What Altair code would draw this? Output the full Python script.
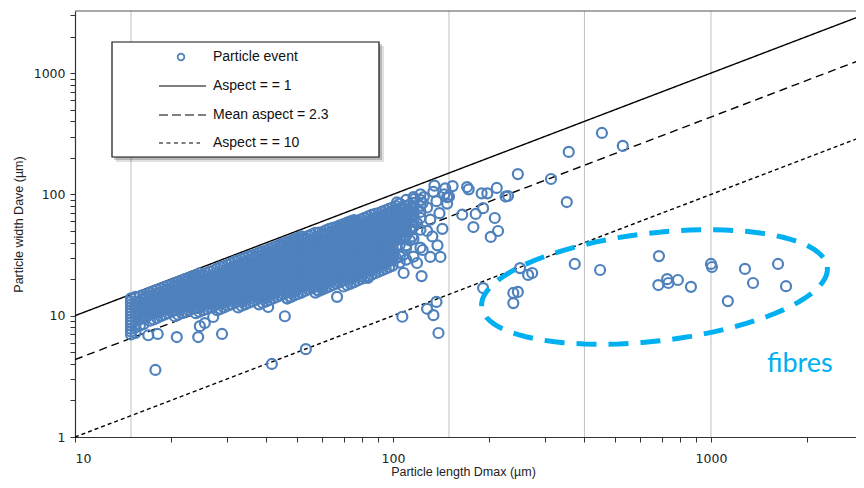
import altair as alt
import pandas as pd

# ---------------- data ----------------
X_DOMAIN = [10, 2858]
Y_DOMAIN = [1, 3250]

# dense cloud of particle events: (Dmax, [Dave values])
BLOB = [
    (15.0, [7.0, 7.4, 7.8, 8.3, 8.8, 9.3, 9.9, 10.5, 11.1, 11.7, 12.4, 13.1, 13.9]),
    (16.0, [8.3, 9.3, 10.5, 11.7, 13.1, 14.4]),
    (16.8, [9.9, 11.1, 12.4, 13.9, 15.0]),
    (17.7, [9.3, 10.5, 11.7, 13.1, 14.7, 15.9]),
    (18.6, [9.9, 11.1, 12.4, 13.9, 15.5, 16.7]),
    (19.6, [10.5, 11.7, 13.1, 14.7, 16.5, 17.6]),
    (20.6, [9.9, 11.1, 12.4, 13.9, 15.5, 17.4, 18.5]),
    (21.7, [10.5, 11.7, 13.1, 14.7, 16.5, 18.4, 19.5]),
    (22.8, [11.1, 12.4, 13.9, 15.5, 17.4, 19.5, 20.5]),
    (24.0, [10.5, 11.7, 13.1, 14.7, 16.5, 18.4, 20.6, 21.5]),
    (25.3, [11.1, 12.4, 13.9, 15.5, 17.4, 19.5, 21.8]),
    (26.6, [11.7, 13.1, 14.7, 16.5, 18.4, 20.6, 23.1]),
    (28.0, [11.1, 12.4, 13.9, 15.5, 17.4, 19.5, 21.8, 24.4]),
    (29.4, [11.7, 13.1, 14.7, 16.5, 18.4, 20.6, 23.1, 25.5]),
    (31.0, [12.4, 13.9, 15.5, 17.4, 19.5, 21.8, 24.4, 27.0]),
    (32.6, [11.7, 13.1, 14.7, 16.5, 18.4, 20.6, 23.1, 25.9, 28.5]),
    (34.3, [12.4, 13.9, 15.5, 17.4, 19.5, 21.8, 24.4, 27.4, 30.0]),
    (36.1, [13.1, 14.7, 16.5, 18.4, 20.6, 23.1, 25.9, 29.0, 31.5]),
    (37.9, [12.4, 13.9, 15.5, 17.4, 19.5, 21.8, 24.4, 27.4, 30.7, 33.0]),
    (39.9, [13.1, 14.7, 16.5, 18.4, 20.6, 23.1, 25.9, 29.0, 32.5, 34.5]),
    (42.0, [13.9, 15.5, 17.4, 19.5, 21.8, 24.4, 27.4, 30.7, 34.3, 36.5]),
    (44.2, [14.7, 16.5, 18.4, 20.6, 23.1, 25.9, 29.0, 32.5, 36.4, 38.5]),
    (46.5, [13.9, 15.5, 17.4, 19.5, 21.8, 24.4, 27.4, 30.7, 34.3, 38.4, 40.5]),
    (48.9, [14.7, 16.5, 18.4, 20.6, 23.1, 25.9, 29.0, 32.5, 36.4, 40.7, 42.5]),
    (51.5, [15.5, 17.4, 19.5, 21.8, 24.4, 27.4, 30.7, 34.3, 38.4, 43.0, 45.0]),
    (54.2, [16.5, 18.4, 20.6, 23.1, 25.9, 29.0, 32.5, 36.4, 40.7, 45.6]),
    (57.0, [15.5, 17.4, 19.5, 21.8, 24.4, 27.4, 30.7, 34.3, 38.4, 43.0, 48.2]),
    (60.0, [16.5, 18.4, 20.6, 23.1, 25.9, 29.0, 32.5, 36.4, 40.7, 45.6, 49.0]),
    (63.1, [17.4, 19.5, 21.8, 24.4, 27.4, 30.7, 34.3, 38.4, 43.0, 48.2, 52.0]),
    (66.4, [18.4, 20.6, 23.1, 25.9, 29.0, 32.5, 36.4, 40.7, 45.6, 51.1, 54.0]),
    (69.9, [17.4, 19.5, 21.8, 24.4, 27.4, 30.7, 34.3, 38.4, 43.0, 48.2, 54.0, 57.0]),
    (73.5, [18.4, 20.6, 23.1, 25.9, 29.0, 32.5, 36.4, 40.7, 45.6, 51.1, 57.2, 60.0]),
    (77.4, [19.5, 21.8, 24.4, 27.4, 30.7, 34.3, 38.4, 43.0, 48.2, 54.0, 60.5]),
    (81.4, [20.6, 23.1, 25.9, 29.0, 32.5, 36.4, 40.7, 45.6, 51.1, 57.2, 64.0]),
    (85.6, [21.8, 24.4, 27.4, 30.7, 34.3, 38.4, 43.0, 48.2, 54.0, 60.5, 67.7]),
    (90.1, [23.1, 25.9, 29.0, 32.5, 36.4, 40.7, 45.6, 51.1, 57.2, 64.0, 70.0]),
    (94.8, [24.4, 27.4, 30.7, 34.3, 38.4, 43.0, 48.2, 54.0, 60.5, 67.7, 74.0]),
    (99.7, [25.9, 29.0, 32.5, 36.4, 40.7, 45.6, 51.1, 57.2, 64.0, 71.7, 78.0]),
    (105.0, [27.4, 30.7, 38.4, 43.0, 48.2, 54.0, 60.5, 67.7, 75.9, 84.0]),
    (110.0, [29.0, 36.4, 45.6, 51.1, 57.2, 64.0, 71.7, 80.3, 90.0]),
    (116.0, [30.7, 43.0, 54.0, 60.5, 67.7, 75.9, 85.0, 95.0]),
    (122.0, [36.4, 51.1, 64.0, 71.7, 80.3, 90.0, 100.0]),
]

# more events of the same cloud, lying between the columns above
BLOB_MID = [
    (15.5, [7.2, 8.0, 9.1, 10.2, 11.4, 12.8, 14.3]),
    (16.4, [8.5, 9.6, 10.8, 12.1, 13.5, 14.8]),
    (17.2, [9.1, 10.2, 11.4, 12.8, 14.3, 15.5]),
    (18.1, [9.6, 10.8, 12.1, 13.5, 15.1, 16.3]),
    (19.1, [10.2, 11.4, 12.8, 14.3, 16.0, 17.2]),
    (20.1, [10.8, 12.1, 13.5, 15.1, 16.9, 18.0]),
    (21.1, [10.2, 11.4, 12.8, 14.3, 16.0, 17.9, 19.0]),
    (22.2, [10.8, 12.1, 13.5, 15.1, 16.9, 18.9, 20.0]),
    (23.4, [11.4, 12.8, 14.3, 16.0, 17.9, 20.1, 21.0]),
    (24.6, [10.8, 12.1, 13.5, 15.1, 16.9, 18.9, 21.2, 22.3]),
    (25.9, [11.4, 12.8, 14.3, 16.0, 17.9, 20.1, 22.4]),
    (27.3, [12.1, 13.5, 15.1, 16.9, 18.9, 21.2, 23.7]),
    (28.7, [11.4, 12.8, 14.3, 16.0, 17.9, 20.1, 22.4, 25.1]),
    (30.2, [12.1, 13.5, 15.1, 16.9, 18.9, 21.2, 23.7, 26.3]),
    (31.8, [12.8, 14.3, 16.0, 17.9, 20.1, 22.4, 25.1, 28.0]),
    (33.4, [12.1, 13.5, 15.1, 16.9, 18.9, 21.2, 23.7, 26.5, 29.3]),
    (35.2, [12.8, 14.3, 16.0, 17.9, 20.1, 22.4, 25.1, 28.2, 30.8]),
    (37.0, [13.5, 15.1, 16.9, 18.9, 21.2, 23.7, 26.5, 29.8, 32.0]),
    (38.9, [12.8, 14.3, 16.0, 17.9, 20.1, 22.4, 25.1, 28.2, 31.6, 33.8]),
    (40.9, [13.5, 15.1, 16.9, 18.9, 21.2, 23.7, 26.5, 29.8, 33.4, 35.5]),
    (43.1, [14.3, 16.0, 17.9, 20.1, 22.4, 25.1, 28.2, 31.6, 35.3, 37.5]),
    (45.3, [15.1, 16.9, 18.9, 21.2, 23.7, 26.5, 29.8, 33.4, 37.3, 39.5]),
    (47.7, [14.3, 16.0, 17.9, 20.1, 22.4, 25.1, 28.2, 31.6, 35.3, 39.5, 41.5]),
    (50.2, [15.1, 16.9, 18.9, 21.2, 23.7, 26.5, 29.8, 33.4, 37.3, 41.8, 43.8]),
    (52.8, [16.0, 17.9, 20.1, 22.4, 25.1, 28.2, 31.6, 35.3, 39.5, 44.2]),
    (55.6, [16.9, 18.9, 21.2, 23.7, 26.5, 29.8, 33.4, 37.3, 41.8, 46.8]),
    (58.5, [16.0, 17.9, 20.1, 22.4, 25.1, 28.2, 31.6, 35.3, 39.5, 44.2, 48.5]),
    (61.5, [16.9, 18.9, 21.2, 23.7, 26.5, 29.8, 33.4, 37.3, 41.8, 46.8, 50.5]),
    (64.7, [17.9, 20.1, 22.4, 25.1, 28.2, 31.6, 35.3, 39.5, 44.2, 49.6, 53.0]),
    (68.1, [18.9, 21.2, 23.7, 26.5, 29.8, 33.4, 37.3, 41.8, 46.8, 52.4, 55.5]),
    (71.7, [17.9, 20.1, 22.4, 25.1, 28.2, 31.6, 35.3, 39.5, 44.2, 49.6, 55.6, 58.5]),
    (75.4, [18.9, 21.2, 23.7, 26.5, 29.8, 33.4, 37.3, 41.8, 46.8, 52.4, 58.8, 61.5]),
    (79.4, [20.1, 22.4, 25.1, 28.2, 31.6, 35.3, 39.5, 44.2, 49.6, 55.6, 62.3]),
    (83.5, [21.2, 23.7, 26.5, 29.8, 33.4, 37.3, 41.8, 46.8, 52.4, 58.8, 65.8]),
    (87.8, [22.4, 25.1, 28.2, 31.6, 35.3, 39.5, 44.2, 49.6, 55.6, 62.3, 69.0]),
    (92.4, [23.7, 26.5, 29.8, 33.4, 37.3, 41.8, 46.8, 52.4, 58.8, 65.8, 72.0]),
    (97.2, [25.1, 28.2, 31.6, 35.3, 39.5, 44.2, 49.6, 55.6, 62.3, 69.7, 76.0]),
    (102.3, [29.8, 37.3, 41.8, 46.8, 52.4, 58.8, 65.8, 73.7, 80.0]),
    (107.5, [31.6, 44.2, 49.6, 55.6, 62.3, 69.7, 78.1]),
    (113.0, [41.8, 52.4, 58.8, 65.8, 73.7, 82.6]),
]

# scattered particle events (Dmax, Dave)
OUT_X = [454, 528, 357, 352, 314, 247, 230, 226, 212, 198, 190, 171, 173, 154,
         209, 214, 203, 179, 192, 182, 165, 141, 131, 123, 108, 192, 251, 266,
         274, 247, 239, 239, 373, 448, 137, 128, 134, 139, 107,
         686, 683, 728, 735, 787, 865, 1000, 1007, 1130, 1279, 1356, 1625, 1722,
         17.9, 41.6, 53.2, 45.7, 17.0, 18.2, 20.9, 24.4, 29.0, 24.7, 25.6, 27.2,
         40.5, 46.5, 57.7, 59.8, 66.7, 83.4, 119, 124, 47.5,
         125, 128, 131, 134, 137, 140, 143, 146, 148, 133, 138, 150, 145, 103,
         124, 117, 112, 119, 128, 115, 110, 135, 148]
OUT_Y = [321, 251, 224, 86.5, 134, 147, 97, 96, 113, 102, 102, 115, 110, 117,
         63.9, 49.9, 44.6, 53.8, 77, 69, 68, 30.5, 30.5, 21.2, 22.5, 16.9, 24.7, 21.7,
         22.5, 15.7, 15.4, 12.7, 26.7, 23.8, 13.0, 11.4, 10.1, 7.2, 9.8,
         31, 17.9, 20, 18.6, 19.7, 17.3, 26.7, 25.2, 13.2, 24.3, 18.6, 26.7, 17.5,
         3.57, 4.0, 5.3, 9.9, 6.9, 7.07, 6.67, 6.67, 7.07, 8.2, 8.7, 9.76,
         11.8, 13.9, 16.3, 17.2, 14.3, 20.5, 27.2, 34.8, 14.3,
         95, 78, 62, 105, 88, 70, 52, 112, 84, 45, 38, 96, 100, 86,
         85, 92, 70, 58, 50, 45, 38, 118, 95]

REF_NAMES = ["Aspect = = 1", "Mean aspect = 2.3", "Aspect = = 10"]
REF_ASPECT = [1.0, 2.3, 10.0]
REF_DASH = [[1, 0], [8, 5], [4, 3]]
LEGEND_DASH = [[1, 0], [9, 4], [4, 3.5]]
LEGEND_LABELS = ["Particle event"] + REF_NAMES
GRID_X = [15, 150, 400, 1000]
X_TICKS = [10, 20, 30, 40, 50, 60, 70, 80, 90, 100, 200, 300, 400, 500, 600,
           700, 800, 900, 1000, 2000]
Y_TICKS = [1, 2, 3, 4, 5, 6, 7, 8, 9, 10, 20, 30, 40, 50, 60, 70, 80, 90,
           100, 200, 300, 400, 500, 600, 700, 800, 900, 1000, 2000, 3000]

# ---------------- build tables ----------------
px, py = [], []
for xv, ys in BLOB + BLOB_MID:
    for yv in ys:
        px.append(xv)
        py.append(yv)
px += OUT_X
py += OUT_Y
pts = pd.DataFrame({"x": px, "y": py})

rows = []
for name, a in zip(REF_NAMES, REF_ASPECT):
    for xv in X_DOMAIN:
        rows.append({"name": name, "x": xv, "y": xv / a})
ref = pd.DataFrame(rows)
grid = pd.DataFrame({"x": GRID_X})
one = pd.DataFrame({"a": [0]})

W, H = 781, 426
BLUE = "#4f81bd"

xs = alt.Scale(type="log", domain=X_DOMAIN, nice=False)
ys_ = alt.Scale(type="log", domain=Y_DOMAIN, nice=False)

X = alt.X("x:Q", scale=xs, axis=alt.Axis(
    values=X_TICKS, format="d", grid=False, tickSize=5, labelPadding=10,
    labelExpr="indexof([10,100,1000], datum.value) >= 0 ? datum.label : ''",
    title="Particle length Dmax (µm)", titleX=388, titleY=38,
    titleBaseline="alphabetic", titleAnchor="middle"))
Y = alt.Y("y:Q", scale=ys_, axis=alt.Axis(
    values=Y_TICKS, format="d", grid=False, tickSize=5, labelPadding=5,
    labelExpr="indexof([1,10,100,1000], datum.value) >= 0 ? datum.label : ''",
    title="Particle width Dave (µm)", titleX=-57, titleY=H / 2,
    titleBaseline="middle", titleAnchor="middle"))

grid_l = alt.Chart(grid).mark_rule(color="#c0c0c0", strokeWidth=1).encode(
    x=alt.X("x:Q", scale=xs))

lines_l = alt.Chart(ref).mark_line(color="black", strokeWidth=1.4).encode(
    x=X, y=Y,
    strokeDash=alt.StrokeDash("name:N", scale=alt.Scale(domain=REF_NAMES, range=REF_DASH),
                              legend=None),
    detail="name:N")

pts_l = alt.Chart(pts).mark_point(shape="circle", filled=False, color=BLUE,
                                  size=100, strokeWidth=2.2, opacity=1).encode(
    x=alt.X("x:Q", scale=xs), y=alt.Y("y:Q", scale=ys_))

# fibres ellipse (annotation drawn in log space)
ell = alt.Chart(alt.sequence(0, 364, 4, as_="t")).transform_calculate(
    rad="datum.t * PI / 180",
    ppx="654.5 + 174*cos(datum.rad)*cos(-0.115) - 54*sin(datum.rad)*sin(-0.115)",
    ppy="287 + 174*cos(datum.rad)*sin(-0.115) + 54*sin(datum.rad)*cos(-0.115)",
    ex="pow(10, 1 + (datum.ppx - 75) / 781 * log(285.8) / LN10)",
    ey="pow(10, (log(3250) / LN10) * (1 - (datum.ppy - 11) / 426))",
).mark_line(color="#00b0f0", strokeWidth=5, strokeDash=[20, 12]).encode(
    x=alt.X("ex:Q", scale=xs), y=alt.Y("ey:Q", scale=ys_), order="t:Q")

fibres = alt.Chart(one).mark_text(text="fibres", font="Lato", fontSize=27,
                                  color="#00b0f0", align="left",
                                  baseline="alphabetic").encode(
    x=alt.value(692), y=alt.value(361))

# legend box
leg = [
    alt.Chart(one).mark_rect(color="#000", opacity=0.12).encode(
        x=alt.value(41), x2=alt.value(309), y=alt.value(35), y2=alt.value(151)),
    alt.Chart(one).mark_rect(color="#000", opacity=0.18).encode(
        x=alt.value(39), x2=alt.value(307), y=alt.value(33), y2=alt.value(149)),
    alt.Chart(one).mark_rect(fill="white", stroke="#111", strokeWidth=1.2).encode(
        x=alt.value(37), x2=alt.value(304), y=alt.value(31), y2=alt.value(146)),
    alt.Chart(one).mark_point(shape="circle", filled=False, color=BLUE, size=44,
                              strokeWidth=1.8, opacity=1).encode(
        x=alt.value(106), y=alt.value(46)),
]
ROW_Y = [46, 75, 104, 132]
for i, lab in enumerate(LEGEND_LABELS):
    leg.append(alt.Chart(one).mark_text(text=lab, font="Liberation Sans", fontSize=14,
                                        color="#111", align="left",
                                        baseline="middle").encode(
        x=alt.value(138), y=alt.value(ROW_Y[i])))
for i, d in enumerate(LEGEND_DASH):
    leg.append(alt.Chart(one).mark_rule(color="black", strokeWidth=1.2,
                                        strokeDash=d).encode(
        x=alt.value(84), x2=alt.value(131 if i < 2 else 125),
        y=alt.value(ROW_Y[i + 1])))

top_border = alt.Chart(one).mark_rule(color="#555", strokeWidth=1.2).encode(
    x=alt.value(0), x2=alt.value(W), y=alt.value(0))

chart = alt.layer(grid_l, lines_l, pts_l, *leg, ell, fibres, top_border).properties(
    width=W, height=H,
    padding={"left": 67, "top": 3, "right": 0, "bottom": 43},
    autosize=alt.AutoSizeParams(type="none"),
).configure_view(stroke=None).configure_axis(
    domainColor="#333", tickColor="#333", domainWidth=1.2,
    labelFont="DejaVu Sans", labelFontSize=12.5, labelColor="#222",
    titleFont="Liberation Sans", titleFontSize=12.5, titleFontWeight="normal",
    titleColor="#222")

chart.save("out.html", embed_options={"renderer": "svg", "actions": False})
